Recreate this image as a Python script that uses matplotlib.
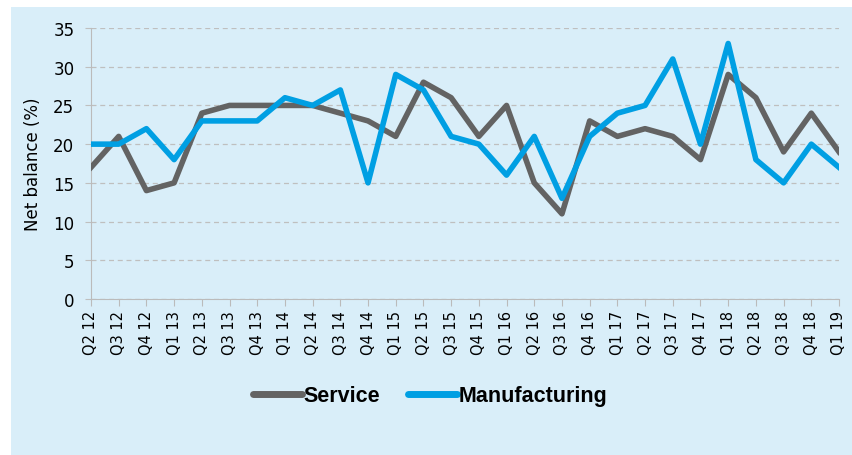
import matplotlib.pyplot as plt
from matplotlib.patches import Rectangle

quarters = ["Q2 12", "Q3 12", "Q4 12", "Q1 13", "Q2 13", "Q3 13", "Q4 13",
            "Q1 14", "Q2 14", "Q3 14", "Q4 14", "Q1 15", "Q2 15", "Q3 15",
            "Q4 15", "Q1 16", "Q2 16", "Q3 16", "Q4 16", "Q1 17", "Q2 17",
            "Q3 17", "Q4 17", "Q1 18", "Q2 18", "Q3 18", "Q4 18", "Q1 19"]
service = [17, 21, 14, 15, 24, 25, 25, 25, 25, 24, 23, 21, 28, 26,
           21, 25, 15, 11, 23, 21, 22, 21, 18, 29, 26, 19, 24, 19]
manufacturing = [20, 20, 22, 18, 23, 23, 23, 26, 25, 27, 15, 29, 27, 21,
                 20, 16, 21, 13, 21, 24, 25, 31, 20, 33, 18, 15, 20, 17]

bg = "#d9eef9"
fig = plt.figure(figsize=(8.53, 4.56), dpi=100)
fig.patch.set_facecolor("white")
fig.patches.append(Rectangle((11/853, 0), 1 - 11/853, 1 - 8/456,
                             transform=fig.transFigure, facecolor=bg,
                             edgecolor="none", zorder=-1))

ax = fig.add_axes([91/853, 1 - 300/456, (839 - 91)/853, (300 - 29)/456])
ax.set_zorder(1)
ax.set_facecolor(bg)
x = list(range(len(quarters)))
ax.plot(x, service, color="#636363", lw=4, label="Service", zorder=3)
ax.plot(x, manufacturing, color="#009fe3", lw=4, label="Manufacturing", zorder=4)

ax.set_xlim(0, len(quarters) - 1)
ax.set_ylim(0, 35)
ax.set_yticks(range(0, 36, 5))
ax.set_xticks(x)
ax.set_xticklabels(quarters, rotation=90, fontsize=10.5)
ax.tick_params(axis="y", labelsize=12, length=4, color="#bfbfbf", pad=8)
ax.tick_params(axis="x", length=5, color="#bbbbbb", pad=3)
ax.yaxis.grid(True, ls=(0, (4, 3)), color="#bfbfbf", lw=0.9)
ax.set_axisbelow(True)
for s in ["top", "right"]:
    ax.spines[s].set_visible(False)
ax.spines["left"].set_color("#bbbbbb")
ax.spines["bottom"].set_color("#bbbbbb")
ax.set_ylabel("Net balance (%)", fontsize=12, labelpad=8)

leg = fig.legend(loc="center", bbox_to_anchor=(430/853, 1 - 397/456), ncol=2,
                 frameon=False, handlelength=2.3, handletextpad=0.05,
                 columnspacing=1.3,
                 prop={"family": "Liberation Sans", "weight": "bold", "size": 15.5})
for ln in leg.get_lines():
    ln.set_linewidth(5)
    ln.set_solid_capstyle("round")

fig.savefig("out.png", dpi=100, facecolor="white")
